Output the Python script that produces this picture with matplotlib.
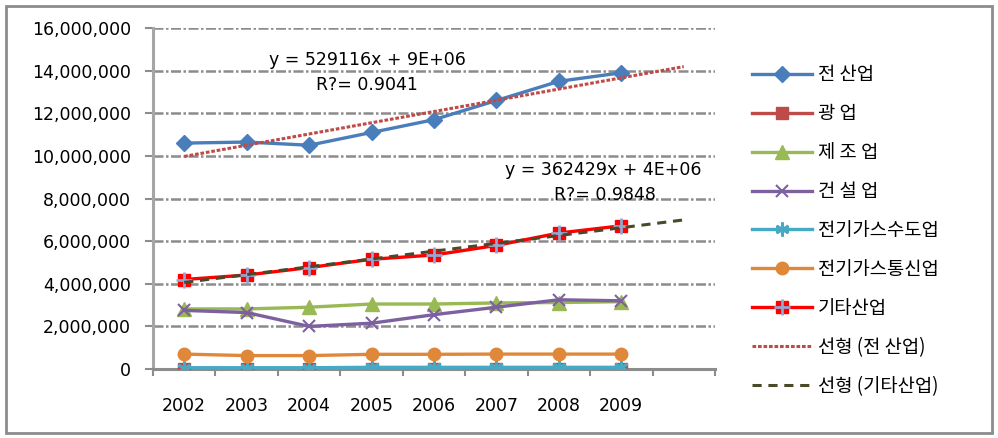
import numpy as np
import matplotlib
matplotlib.use('Agg')
from matplotlib import pyplot as plt
from matplotlib.legend_handler import HandlerTuple

plt.rcParams['font.family'] = ['DejaVu Sans', 'Noto Sans CJK KR']

years = ['2002', '2003', '2004', '2005', '2006', '2007', '2008', '2009']
all_ind = [10600000, 10650000, 10500000, 11100000, 11700000, 12600000, 13500000, 13900000]
mining = [20000, 20000, 20000, 20000, 20000, 20000, 20000, 20000]
manuf = [2820000, 2820000, 2900000, 3050000, 3050000, 3100000, 3120000, 3160000]
constr = [2750000, 2650000, 2000000, 2150000, 2550000, 2900000, 3250000, 3200000]
util_water = [60000, 60000, 60000, 80000, 80000, 80000, 80000, 80000]
util_comm = [700000, 630000, 630000, 690000, 690000, 700000, 700000, 700000]
others = [4200000, 4410000, 4760000, 5150000, 5350000, 5800000, 6380000, 6720000]

names = ['전 산업', '광 업', '제 조 업', '건 설 업', '전기가스수도업', '전기가스통신업', '기타산업']

fig = plt.figure(figsize=(9.98, 4.38), dpi=100)
# outer chart frame
fig.patches.append(plt.Rectangle((0.006, 0.012), 0.988, 0.975, transform=fig.transFigure,
                                 fill=False, edgecolor='#8c8c8c', linewidth=2))
ax = fig.add_axes([0.1533, 0.1575, 0.5631, 0.7785])

x = np.arange(len(years))
lw = 2.4
h = []
h.append(ax.plot(x, all_ind, color='#4a7ebb', lw=lw, marker='D', ms=8, zorder=3)[0])
h.append(ax.plot(x, mining, color='#be4b48', lw=lw, marker='s', ms=9, zorder=3)[0])
h.append(ax.plot(x, manuf, color='#98b954', lw=lw, marker='^', ms=10, zorder=3)[0])
h.append(ax.plot(x, constr, color='#7d60a0', lw=lw, marker='x', ms=9, mew=1.5, zorder=3)[0])
h.append(ax.plot(x, util_water, color='#46aac5', lw=lw, marker=(6, 2, 0), ms=10, mew=2, zorder=3)[0])
h.append(ax.plot(x, util_comm, color='#e0883a', lw=lw, marker='o', ms=9, zorder=3)[0])
oth_line = ax.plot(x, others, color='#ff0000', lw=lw, marker='s', ms=9, zorder=4)[0]
oth_plus = ax.plot(x, others, color='#8fa8d4', lw=0, marker='+', ms=11, mew=2, zorder=4)[0]
h.append((oth_line, oth_plus))

# linear trendlines, forecast forward 1 period
xf = np.arange(1, len(years) + 1)
xt = np.arange(0, len(years) + 1)
p1 = np.polyfit(xf, all_ind, 1)
p2 = np.polyfit(xf, others, 1)
t1 = ax.plot(xt, np.polyval(p1, xt + 1), color='#be4b48', lw=2.2, ls=(0, (1.2, 0.6)), zorder=5)[0]
t2 = ax.plot(xt, np.polyval(p2, xt + 1), color='#4a4a2a', lw=2.2, ls=(0, (3, 2.2)), zorder=5)[0]
h += [t1, t2]
names += ['선형 (전 산업)', '선형 (기타산업)']

ax.text(2.93, 14.5e6, 'y = 529116x + 9E+06', ha='center', va='center', fontsize=12.5)
ax.text(2.93, 13.33e6, 'R?= 0.9041', ha='center', va='center', fontsize=12.5)
ax.text(6.71, 9.34e6, 'y = 362429x + 4E+06', ha='center', va='center', fontsize=12.5)
ax.text(6.73, 8.17e6, 'R?= 0.9848', ha='center', va='center', fontsize=12.5)

ax.set_xlim(-0.5, 8.5)
ax.set_ylim(0, 16e6)
ax.set_yticks(np.arange(0, 16e6 + 1, 2e6))
ax.set_yticklabels(['{:,}'.format(int(v)) for v in np.arange(0, 16e6 + 1, 2e6)], fontsize=12.5)
ax.set_xticks(x)
ax.set_xticklabels(years, fontsize=12.5)
ax.set_xticks(np.arange(-0.5, 9, 1), minor=True)
ax.tick_params(axis='x', which='major', length=0, pad=20)
ax.tick_params(axis='x', which='minor', length=5, width=1.5, color='#8c8c8c')
ax.tick_params(axis='y', length=6, width=1.5, color='#8c8c8c', pad=10)
ax.yaxis.grid(True, color='#8c8c8c', lw=1.8, ls=(0, (4, 1, 1, 1)))
ax.set_axisbelow(True)
for s in ['top', 'right']:
    ax.spines[s].set_visible(False)
ax.spines['left'].set_color('#a6a6a6')
ax.spines['left'].set_linewidth(2.2)
ax.spines['bottom'].set_color('#8c8c8c')
ax.spines['bottom'].set_linewidth(2.2)

fig.legend(h, names, loc='upper left', bbox_to_anchor=(0.7535, 0.853), frameon=False,
           borderpad=0, borderaxespad=0, prop={'family': ['Noto Sans CJK KR'], 'size': 13.5},
           handlelength=3.2, handletextpad=0.3, labelspacing=0.955,
           handler_map={tuple: HandlerTuple(ndivide=1, pad=0)})

fig.savefig('out.png', dpi=100)
